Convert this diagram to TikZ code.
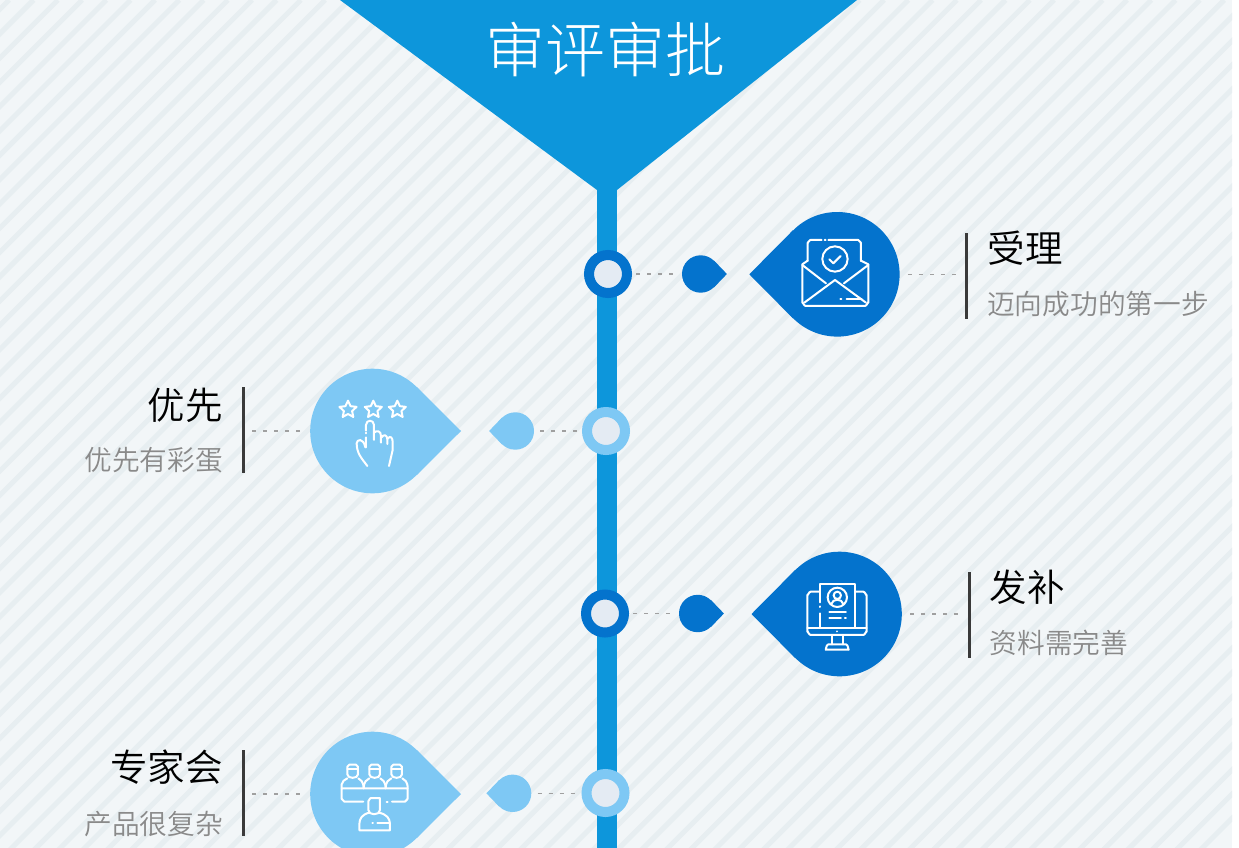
\documentclass[tikz,border=0pt]{standalone}
\usepackage{fontspec}
\setmainfont[UprightFont=* Light]{Noto Sans CJK SC}
\newfontfamily\demi[UprightFont=* DemiLight]{Noto Sans CJK SC}
\usetikzlibrary{calc}
\definecolor{bgc}{HTML}{F2F6F8}
\definecolor{stripec}{HTML}{E7EEF1}
\definecolor{trunk}{HTML}{0D96DB}
\definecolor{deep}{HTML}{0473CD}
\definecolor{pale}{HTML}{7EC8F4}
\definecolor{holec}{HTML}{E4EBF3}
\definecolor{subc}{HTML}{8A8A8A}
\definecolor{barc}{HTML}{3A3A3A}
\definecolor{dashc}{HTML}{A0A0A0}
\tikzset{
  ringnode/.style={circle,draw=#1,line width=10pt,fill=holec,minimum size=38pt,inner sep=0pt},
  smalldrop/.style={circle,fill=#1,minimum size=37.4pt,inner sep=0pt},
  bigdrop/.style={circle,fill=#1,minimum size=124.6pt,inner sep=0pt},
  barnode/.style={rectangle,fill=barc,minimum width=3pt,minimum height=86pt,inner sep=0pt},
  conn/.style={draw=dashc,line width=1.5pt,dash pattern=on 4pt off 7pt},
  headtext/.style={inner sep=0pt,text=black,font=\demi\fontsize{37.5}{40}\selectfont},
  subtext/.style={inner sep=0pt,text=subc,font=\demi\fontsize{27.7}{30}\selectfont},
  icon/.style={draw=white,line width=2pt,line cap=round,line join=round},
  zoomed/.style={shift={(#1)},x=0.3333pt,y=-0.3333pt}
}
\begin{document}
\begin{tikzpicture}[x=1pt,y=-1pt]
\useasboundingbox (0,0) rectangle (1239,848);
\fill[white] (0,0) rectangle (1239,848);
\fill[bgc] (0,0) rectangle (1232,848);
\begin{scope}
\clip (0,0) rectangle (1232,848);
\foreach \k in {-46,...,38}{
  \pgfmathsetmacro{\c}{1127+24.3*\k}
  \draw[stripec,line width=5pt] (\c,0) -- (\c-900,900);
}
\end{scope}
% trunk and funnel
\fill[trunk] (597,185) rectangle (617,848);
\fill[trunk] (340,0) -- (597,190) -- (617,190) -- (857,0) -- cycle;
\node[inner sep=0pt,text=white,font=\fontsize{60}{62}\selectfont] (title) at (605,50) {审评审批};

% rings
\node[ringnode=deep] (r1) at (608,274) {};
\node[ringnode=pale] (r2) at (606,431) {};
\node[ringnode=deep] (r3) at (605,613.5) {};
\node[ringnode=pale] (r4) at (605.5,793) {};

% small drops
\node[smalldrop=deep] (d1) at (700.7,274) {};
\fill[deep] (d1.45) -- ([xshift=26.2pt]d1.center) -- (d1.-45) -- cycle;
\node[smalldrop=pale] (d2) at (515.3,431) {};
\fill[pale] (d2.135) -- ([xshift=-26.2pt]d2.center) -- (d2.225) -- cycle;
\node[smalldrop=deep] (d3) at (697.7,613.5) {};
\fill[deep] (d3.45) -- ([xshift=26.2pt]d3.center) -- (d3.-45) -- cycle;
\node[smalldrop=pale] (d4) at (512.6,793.3) {};
\fill[pale] (d4.135) -- ([xshift=-26.2pt]d4.center) -- (d4.225) -- cycle;

% big drops
\node[bigdrop=deep] (L1) at (837.3,274.3) {};
\fill[deep] (L1.135) -- ([xshift=-88pt]L1.center) -- (L1.225) -- cycle;
\node[bigdrop=pale] (L2) at (372.5,431) {};
\fill[pale] (L2.45) -- ([xshift=88.5pt]L2.center) -- (L2.-45) -- cycle;
\node[bigdrop=deep] (L3) at (839.5,614) {};
\fill[deep] (L3.135) -- ([xshift=-88pt]L3.center) -- (L3.225) -- cycle;
\node[bigdrop=pale] (L4) at (372.5,794) {};
\fill[pale] (L4.45) -- ([xshift=88.5pt]L4.center) -- (L4.-45) -- cycle;

% bars
\node[barnode] (b1) at (966.5,276) {};
\node[barnode] (b2) at (243,430) {};
\node[barnode] (b3) at (969.5,615) {};
\node[barnode] (b4) at (243,793) {};

% connectors
\draw[conn,shorten <=4pt,shorten >=4pt] (r1) -- (d1);
\draw[conn,shorten <=8pt,shorten >=7pt] (L1) -- (L1-|b1);
\draw[conn,shorten <=6pt,shorten >=4pt] (d2) -- (d2-|r2.west);
\draw[conn,shorten <=9pt,shorten >=6pt] (L2-|b2) -- (L2);
\draw[conn,shorten <=4pt,shorten >=4pt] (r3) -- (d3);
\draw[conn,shorten <=8pt,shorten >=7pt] (L3) -- (L3-|b3);
\draw[conn,shorten <=6pt,shorten >=4pt] (d4) -- (d4-|r4.west);
\draw[conn,shorten <=9pt,shorten >=6pt] (L4-|b4) -- (L4);

% labels
\node[headtext,anchor=west] (t1) at (987.5,248) {受理};
\node[subtext,anchor=west] (s1) at (987,304) {迈向成功的第一步};
\node[headtext,anchor=east] (t2) at (223,405) {优先};
\node[subtext,anchor=east] (s2) at (223,460) {优先有彩蛋};
\node[headtext,anchor=west] (t3) at (989.5,587) {发补};
\node[subtext,anchor=west] (s3) at (989.5,643) {资料需完善};
\node[headtext,anchor=east] (t4) at (223,767) {专家会};
\node[subtext,anchor=east] (s4) at (223,824) {产品很复杂};

% envelope icon
\begin{scope}[zoomed={570,200},icon]
\draw (713,183) -- (713,128) to[out=-90,in=180] (721,120) -- (755,120) (764,120) -- (767,120) (775,120) -- (865,120) to[out=0,in=-90] (873,128) -- (873,183);
\draw (713,182) -- (697,193) -- (697,308) to[out=90,in=180] (707,318) -- (885,318) to[out=0,in=90] (895,308) -- (895,193) -- (873,182);
\draw (697,195) -- (768,250) (895,195) -- (822,250);
\draw (703,308) -- (795,240) -- (888,308);
\draw (795,177) circle[radius=38];
\draw (778,178) -- (790,190) -- (812,168);
\draw (811,297) -- (814,297) (830,297) -- (875,297);
\end{scope}

% hand icon
\begin{scope}[zoomed={300,360},icon]
\foreach \sx in {144,220,292}{
  \draw ($(\sx,149)+(90:-27)$)
    \foreach \a in {1,...,9}{ -- ($(\sx,149)+({90+36*\a}:{ifthenelse(mod(\a,2)==0,-27,-13)})$) } -- cycle;
}
\draw (202,318) .. controls (185,295) and (170,280) .. (170,250) .. controls (170,238) and (190,232) .. (196,262);
\draw (198,262) -- (198,232) (198,212) -- (198,195) .. controls (198,178) and (222,178) .. (222,195) -- (222,240);
\draw (198,218) -- (198,220);
\draw (222,218) .. controls (230,210) and (243,212) .. (243,228) -- (243,248);
\draw (245,232) .. controls (250,222) and (262,224) .. (262,238) -- (262,252);
\draw (263,236) .. controls (270,226) and (278,232) .. (278,245) -- (278,270) -- (267,318);
\end{scope}

% monitor icon
\begin{scope}[zoomed={570,545},icon]
\draw (747,140) -- (722,140) to[out=180,in=-90] (712,150) -- (712,260) to[out=90,in=180] (722,270) -- (880,270) to[out=0,in=90] (890,260) -- (890,150) to[out=-90,in=0] (880,140) -- (857,140);
\draw (750,172) -- (750,118) -- (855,118) -- (855,248);
\draw (750,205) -- (750,248);
\draw (750,184) -- (750,186);
\draw (712,248) -- (890,248);
\draw (802,259) -- (802,259.5);
\draw (785,270) -- (785,298) (820,270) -- (820,298);
\draw (775,298) -- (828,298) to[out=0,in=-90] (836,314) -- (767,314) to[out=-90,in=180] (775,298);
\draw (802,157) circle[radius=29];
\draw (802,151) circle[radius=11];
\draw (784,177) .. controls (788,160) and (816,160) .. (820,177);
\draw (778,202) -- (828,202) (778,220) -- (813,220) (825,220) -- (828,220);
\end{scope}

% team icon
\begin{scope}[zoomed={300,725},icon]
\foreach \hx in {158,224,290}{
  \draw (\hx-16,148) -- (\hx-16,125) to[out=-90,in=180] (\hx-10,119) -- (\hx+10,119) to[out=0,in=-90] (\hx+16,125) -- (\hx+16,148) .. controls (\hx+16,162) and (\hx-16,162) .. (\hx-16,148);
  \draw (\hx-16,133) -- (\hx+16,133);
}
\draw (125,190) -- (125,178) .. controls (125,168) and (135,165) .. (142,160);
\draw (175,160) .. controls (182,165) and (190,168) .. (191,190);
\draw (191,190) .. controls (192,168) and (200,165) .. (208,160);
\draw (241,160) .. controls (248,165) and (256,168) .. (257,190);
\draw (257,190) .. controls (258,168) and (266,165) .. (274,160);
\draw (307,160) .. controls (314,165) and (323,168) .. (323,190);
\draw (190,230) -- (133,230) to[out=180,in=90] (125,222) -- (125,190) -- (323,190) -- (323,222) to[out=90,in=0] (315,230) -- (276,230);
\draw (260,230) -- (263,230);
\draw (205,255) -- (205,228) to[out=-90,in=180] (213,219) -- (240,219) -- (240,255) .. controls (240,272) and (205,272) .. (205,255);
\draw (208,263) .. controls (187,268) and (178,280) .. (178,298) -- (178,316) -- (270,316) -- (270,298) .. controls (270,280) and (260,268) .. (237,263);
\draw (217,295) -- (219,295) (232,295) -- (270,295);
\end{scope}
\end{tikzpicture}
\end{document}
